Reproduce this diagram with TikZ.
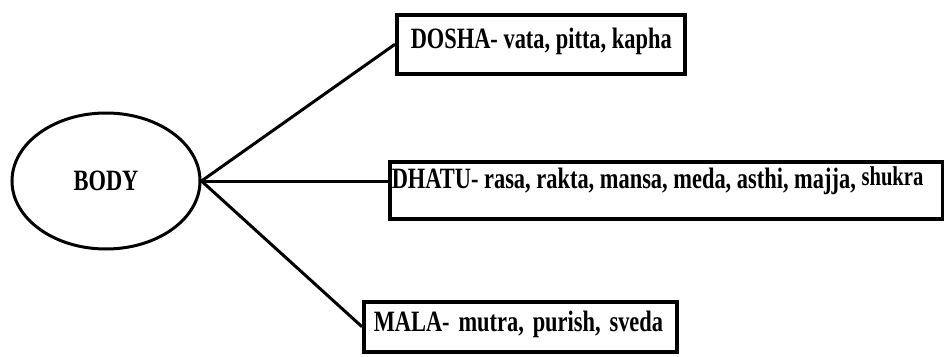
\documentclass[tikz,border=0pt]{standalone}
\usepackage{fontspec}
\setmainfont{Liberation Serif}[FakeStretch=0.76]
\usetikzlibrary{shapes.geometric}
\begin{document}
\begin{tikzpicture}[x=1pt,y=-1pt,
  part/.style={draw,line width=3.5pt,anchor=north west,inner ysep=0pt,align=left,
    font=\bfseries\fontsize{29.5}{32}\selectfont,
    execute at begin node={\spaceskip=0.19em\xspaceskip=0.19em}},
  link/.style={line width=3pt}]
  \useasboundingbox (0,0) rectangle (944,356);

  \node[draw,ellipse,line width=3pt,minimum width=188pt,minimum height=136pt,
    font=\bfseries\fontsize{29.5}{32}\selectfont] (body) at (106,181) {BODY};

  % the three parts of the body
  \node[part,inner xsep=2pt,text width=284pt,text height=34pt,text depth=25pt]
    (dosha) at (395,13) {\hspace*{12pt}DOSHA- vata, pitta, kapha};
  \node[part,inner xsep=2pt,text width=549pt,text height=27pt,text depth=30pt]
    (dhatu) at (388,160) {DHATU- rasa, rakta, mansa, meda, asthi, majja,
    \raisebox{3pt}{\scalebox{0.92}{shukra}}};
  \node[part,inner xsep=10pt,text width=293pt,text height=30pt,text depth=20pt,
    execute at begin node={\spaceskip=0.3em\xspaceskip=0.3em}]
    (mala) at (362,300) {MALA- mutra, purish, sveda};

  \draw[link] (body.east) -- (dosha.west);
  \draw[link] (body.east) -- (body.east -| dhatu.west);
  \draw[link] (body.east) -- (mala.west);
\end{tikzpicture}
\end{document}
